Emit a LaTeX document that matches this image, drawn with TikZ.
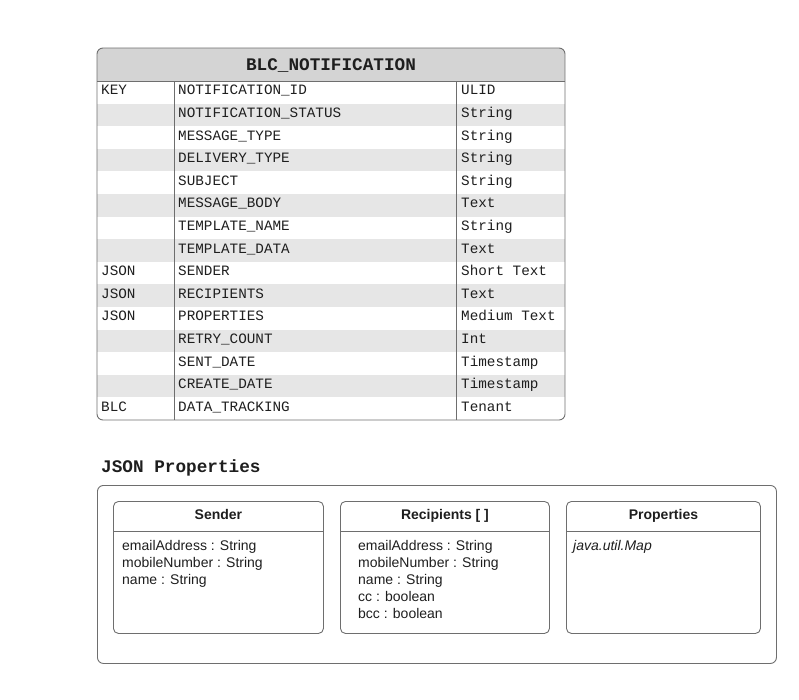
\documentclass[tikz,border=0pt]{standalone}
\usepackage{fontspec}
\setmainfont{Liberation Sans}
\setmonofont{Liberation Mono}
\usetikzlibrary{positioning}
\definecolor{rowgray}{HTML}{E6E6E6}
\definecolor{headgray}{HTML}{D4D4D4}
\definecolor{linegray}{HTML}{6E6E6E}
\definecolor{inkgray}{HTML}{1E1E1E}

\begin{document}
\begin{tikzpicture}[x=1pt,y=-1pt,
  cell/.style={anchor=base west,inner sep=0pt,text=inkgray,
    font=\ttfamily\fontsize{14.3}{17}\selectfont},
  tblname/.style={anchor=base,inner sep=0pt,text=inkgray,
    font=\ttfamily\bfseries\fontsize{17.7}{21}\selectfont},
  classbox/.style={draw=linegray,line width=.9pt,rounded corners=5pt,
    inner sep=0pt,anchor=north west},
  classname/.style={anchor=base,inner sep=0pt,text=inkgray,
    font=\bfseries\fontsize{14}{17}\selectfont},
  attr/.style={anchor=base west,inner sep=0pt,text=inkgray,
    font=\fontsize{14}{17}\selectfont}]
  \useasboundingbox (0,0) rectangle (799,699);

  % table body
  \begin{scope}
    \clip[rounded corners=6pt] (97,48) rectangle (565,420);
    \fill[headgray] (97,48) rectangle (565,81);
    \foreach \r in {2,4,...,14}
      \fill[rowgray] (97,{81+(\r-1)*22.6}) rectangle (565,{81+\r*22.6});
  \end{scope}
  \draw[linegray,line width=.9pt,rounded corners=6pt] (97,48) rectangle (565,420);
  \draw[linegray,line width=.9pt] (97,81) -- (565,81);
  \draw[linegray,line width=.9pt] (174,81) -- (174,420);
  \draw[linegray,line width=.9pt] (456,81) -- (456,420);

  \node[tblname] (tbl) at (331,70.8) {BLC\_NOTIFICATION};
  \foreach \key/\field/\type [count=\r] in {
      KEY/NOTIFICATION\_ID/ULID,
      /NOTIFICATION\_STATUS/String,
      /MESSAGE\_TYPE/String,
      /DELIVERY\_TYPE/String,
      /SUBJECT/String,
      /MESSAGE\_BODY/Text,
      /TEMPLATE\_NAME/String,
      /TEMPLATE\_DATA/Text,
      JSON/SENDER/Short Text,
      JSON/RECIPIENTS/Text,
      JSON/PROPERTIES/Medium Text,
      /RETRY\_COUNT/Int,
      /SENT\_DATE/Timestamp,
      /CREATE\_DATE/Timestamp,
      BLC/DATA\_TRACKING/Tenant} {
    \node[cell] (key\r) at (101,{94.8+(\r-1)*22.6}) {\key};
    \node[cell] (field\r) at (178,{94.8+(\r-1)*22.6}) {\field};
    \node[cell] (type\r) at (461,{94.8+(\r-1)*22.6}) {\type};
  }

  % json objects
  \node[tblname,anchor=base west] (jsontitle) at (101,472) {JSON Properties};
  \node[classbox,rounded corners=6pt,minimum width=679,minimum height=178]
    (jsonbox) at (97,485) {};

  \node[classbox,minimum width=210,minimum height=132] (sender) at (113,501) {};
  \node[classbox,minimum width=209,minimum height=132] (recips) at (340,501) {};
  \node[classbox,minimum width=194,minimum height=132] (props) at (566,501) {};
  \foreach \obj in {sender,recips,props}
    \draw[linegray,line width=.9pt] ([yshift=-30pt]\obj.north west)
      -- ([yshift=-30pt]\obj.north east);

  \node[classname] (senderT) at (sender.north |- 0,519.7) {Sender};
  \node[classname] (recipsT) at (recips.north |- 0,519.7) {Recipients [ ]};
  \node[classname] (propsT) at (props.north |- 0,519.7) {Properties};

  \foreach \t [count=\i] in {emailAddress : String, mobileNumber : String,
      name : String}
    \node[attr] (sndattr\i) at (122,{550+(\i-1)*17}) {\t};
  \foreach \t [count=\i] in {emailAddress : String, mobileNumber : String,
      name : String, cc : boolean, bcc : boolean}
    \node[attr] (rcpattr\i) at (358,{550+(\i-1)*17}) {\t};
  \node[attr,font=\itshape\fontsize{14}{17}\selectfont] (prpattr) at (573,550)
    {java.util.Map};
\end{tikzpicture}
\end{document}
